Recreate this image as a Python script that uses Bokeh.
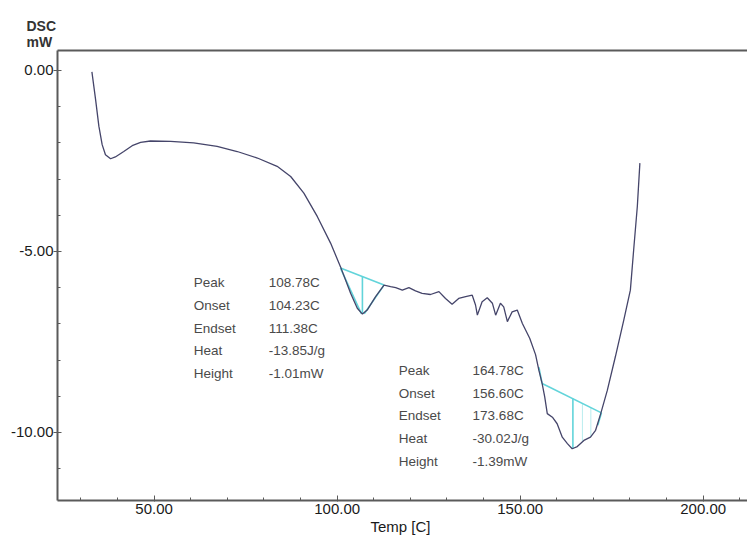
from bokeh.plotting import figure
from bokeh.models import (FixedTicker, PrintfTickFormatter, LinearAxis, Title,
                          ColumnDataSource)
from bokeh.core.properties import value
from bokeh.embed import file_html
from bokeh.resources import INLINE

# ---- data ----
temp = [33.0, 34.0, 34.9, 35.8, 36.7, 38.1, 39.4, 41.7, 44.0, 46.3, 49.0, 54.5,
        60.8, 67.2, 72.7, 78.2, 83.6, 87.3, 90.9, 94.6, 98.2, 100.9, 103.7, 105.5,
        106.9, 108.2, 110.5, 112.8, 114.6, 116.0, 117.8, 119.6, 121.4, 123.2, 125.5,
        127.8, 129.6, 131.4, 133.2, 135.1, 136.9, 137.8, 138.3, 139.6, 141.0, 142.4,
        143.3, 144.6, 145.5, 146.5, 147.8, 149.2, 150.6, 152.6, 154.2, 155.1, 156.0,
        156.7, 157.4, 158.8, 160.1, 161.5, 162.9, 164.2, 165.6, 167.4, 169.2, 170.6,
        172.0, 173.8, 176.0, 178.3, 180.1, 181.0, 182.0, 182.7]
dsc = [-0.04, -0.80, -1.54, -2.05, -2.33, -2.44, -2.39, -2.24, -2.08, -1.99, -1.95, -1.96,
       -2.00, -2.10, -2.24, -2.42, -2.65, -2.93, -3.39, -4.04, -4.77, -5.42, -6.16, -6.57,
       -6.73, -6.62, -6.25, -5.93, -5.97, -6.00, -6.07, -6.00, -6.09, -6.16, -6.19,
       -6.11, -6.30, -6.46, -6.30, -6.25, -6.21, -6.48, -6.76, -6.39, -6.28, -6.43,
       -6.76, -6.43, -6.53, -6.94, -6.67, -6.62, -6.99, -7.40, -7.85, -8.28, -8.65,
       -9.02, -9.48, -9.58, -9.76, -10.13, -10.31, -10.45, -10.39, -10.22, -10.13, -9.94,
       -9.48, -8.84, -7.91, -6.90, -6.07, -4.96, -3.76, -2.56]

# peak 1 analysis lines
pk1_base_t = [100.9, 112.8]
pk1_base_d = [-5.46, -5.93]
pk1_vert_t = [106.9, 106.9]
pk1_vert_d = [-6.73, -5.70]
pk1_left_t = [100.9, 106.6]
pk1_left_d = [-5.46, -6.72]
pk1_right_t = [107.4, 112.8]
pk1_right_d = [-6.72, -5.93]

# peak 2 analysis lines
pk2_base_t = [156.0, 172.2]
pk2_base_d = [-8.65, -9.46]
pk2_vert_t = [164.4, 164.4]
pk2_vert_d = [-10.45, -9.06]
pk2_hatch_t = [[167.0, 167.0], [169.3, 169.3]]
pk2_hatch_d = [[-10.25, -9.19], [-10.12, -9.30]]
pk2_tan_t = [[155.1, 156.0], [172.2, 171.2]]
pk2_tan_d = [[-8.20, -8.65], [-9.46, -9.80]]

# annotation texts
ann_keys = ["Peak", "Onset", "Endset", "Heat", "Height"]
ann1_vals = ["108.78C", "104.23C", "111.38C", "-13.85J/g", "-1.01mW"]
ann2_vals = ["164.78C", "156.60C", "173.68C", "-30.02J/g", "-1.39mW"]
ann1_key_t, ann1_val_t = 60.8, 81.3
ann1_rows = [-5.87, -6.50, -7.12, -7.74, -8.37]
ann2_key_t, ann2_val_t = 116.8, 137.0
ann2_rows = [-8.28, -8.92, -9.54, -10.17, -10.80]

x_major = [50, 100, 150, 200]
x_minor = [30, 40, 60, 70, 80, 90, 110, 120, 130, 140, 160, 170, 180, 190, 210]
y_major = [-10, -5, 0]
y_minor = [-11, -9, -8, -7, -6, -4, -3, -2, -1]

FONT = "Liberation Sans"
CYAN = "#62d4da"
CURVE = "#45456a"
AXIS = "#5a5a5a"

p = figure(width=747, height=538, x_range=(23.6, 212.1), y_range=(-11.88, 0.55),
           output_backend="svg", toolbar_location=None,
           min_border_left=57, min_border_right=0, min_border_top=50,
           min_border_bottom=38, x_axis_location=None, y_axis_location=None)
p.grid.visible = False
p.outline_line_color = None
p.background_fill_color = "white"
p.border_fill_color = "white"

xax = LinearAxis(ticker=FixedTicker(ticks=x_major, minor_ticks=x_minor),
                 formatter=PrintfTickFormatter(format="%.2f"),
                 axis_label="Temp  [C]")
yax = LinearAxis(ticker=FixedTicker(ticks=y_major, minor_ticks=y_minor),
                 formatter=PrintfTickFormatter(format="%.2f"))
top = LinearAxis(ticker=FixedTicker(ticks=[]), major_label_text_font_size="0px")
for ax in (xax, yax, top):
    ax.axis_line_color = AXIS
    ax.axis_line_width = 2
    ax.major_tick_line_color = AXIS
    ax.minor_tick_line_color = AXIS
    ax.major_label_text_font = FONT
    ax.major_label_text_font_size = "15px"
    ax.major_label_text_color = "#1a1a1a"
xax.major_tick_in = 5
xax.major_tick_out = 1
xax.minor_tick_in = 3
xax.minor_tick_out = 0
xax.major_label_standoff = 2
xax.axis_label_standoff = 1
xax.axis_label_text_font = FONT
xax.axis_label_text_font_size = "15px"
xax.axis_label_text_font_style = "normal"
xax.axis_label_text_color = "#1a1a1a"
yax.major_tick_in = 4
yax.major_tick_out = 4
yax.minor_tick_in = 3
yax.minor_tick_out = 0
yax.major_label_standoff = 0
top.major_tick_in = 0
top.major_tick_out = 0
top.minor_tick_in = 0
top.minor_tick_out = 0
p.add_layout(xax, "below")
p.add_layout(yax, "left")
p.add_layout(top, "above")

# axis unit title, top-left
p.add_layout(Title(text="DSC\nmW", align="left", offset=-31, text_font=FONT,
                   text_font_size="14px", text_font_style="bold",
                   text_color="#333333", standoff=1), "above")

# cyan peak analysis
for tt, dd in [(pk1_base_t, pk1_base_d), (pk1_vert_t, pk1_vert_d),
               (pk1_left_t, pk1_left_d), (pk1_right_t, pk1_right_d),
               (pk2_base_t, pk2_base_d), (pk2_vert_t, pk2_vert_d)]:
    p.line(tt, dd, line_color=CYAN, line_width=1.6)
p.multi_line(pk2_tan_t, pk2_tan_d, line_color=CYAN, line_width=1.6)
p.multi_line(pk2_hatch_t, pk2_hatch_d, line_color=CYAN, line_width=1, line_alpha=0.45)

# curve
p.line(temp, dsc, line_color=CURVE, line_width=1.3)

# annotation blocks
src1k = ColumnDataSource(dict(x=[ann1_key_t] * 5, y=ann1_rows, t=ann_keys))
src1v = ColumnDataSource(dict(x=[ann1_val_t] * 5, y=ann1_rows, t=ann1_vals))
src2k = ColumnDataSource(dict(x=[ann2_key_t] * 5, y=ann2_rows, t=ann_keys))
src2v = ColumnDataSource(dict(x=[ann2_val_t] * 5, y=ann2_rows, t=ann2_vals))
for s in (src1k, src1v, src2k, src2v):
    p.text(x="x", y="y", text="t", source=s, text_font=value(FONT),
           text_font_size="13.5px", text_color="#4a4a4a",
           text_align="left", text_baseline="middle")

open("out.html", "w").write(file_html(p, INLINE))
